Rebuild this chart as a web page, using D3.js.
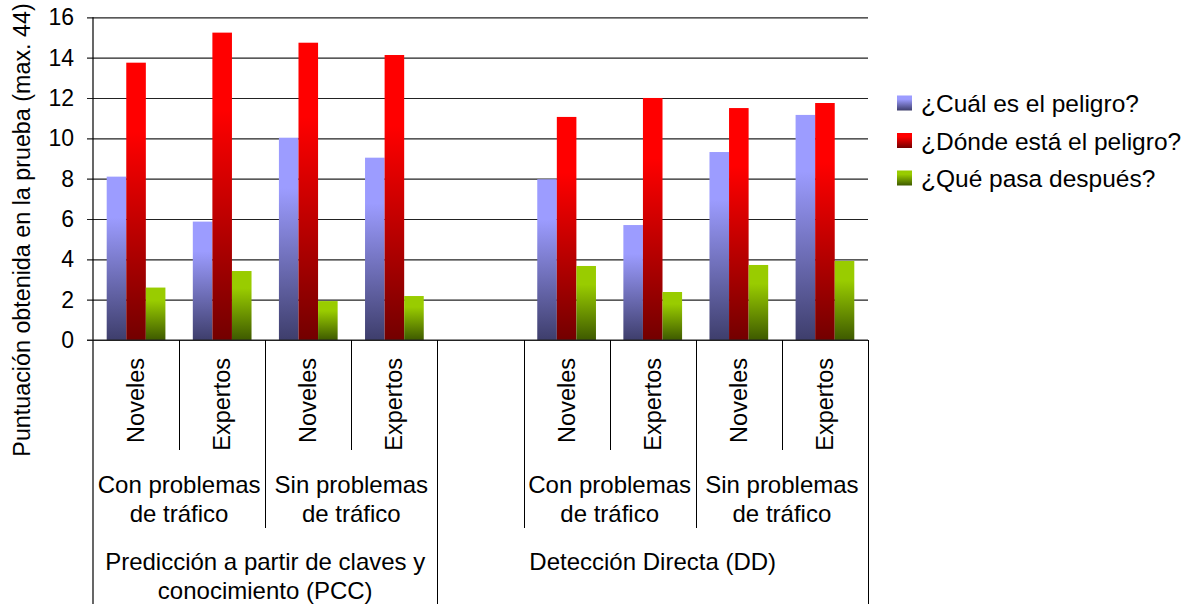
<!DOCTYPE html>
<html>
<head>
<meta charset="utf-8">
<script src="https://cdn.jsdelivr.net/npm/d3@7"></script>
<style>
  html, body { margin: 0; padding: 0; background: #fff; }
  svg { display: block; font-family: "Liberation Sans", Arial, sans-serif; }
</style>
</head>
<body>
<svg id="chart" width="1197" height="604"></svg>
<script>
// Slots along the x axis (the empty slot separates the two test types)
const slots = ["Noveles", "Expertos", "Noveles", "Expertos", "", "Noveles", "Expertos", "Noveles", "Expertos"];
const series = ["¿Cuál es el peligro?", "¿Dónde está el peligro?", "¿Qué pasa después?"];
const cualValues   = [8.1, 5.87, 10.03, 9.04, null, 7.97, 5.7, 9.32, 11.16];
const dondeValues  = [13.75, 15.24, 14.74, 14.13, null, 11.06, 12.0, 11.5, 11.75];
const quePasaValues = [2.6, 3.42, 1.93, 2.18, null, 3.67, 2.38, 3.72, 3.92];
const yTicks = [0, 2, 4, 6, 8, 10, 12, 14, 16];

// Second level: traffic condition, spans of slot indices
const subGroups = [
  { lines: ["Con problemas", "de tráfico"], from: 0, to: 1 },
  { lines: ["Sin problemas", "de tráfico"], from: 2, to: 3 },
  { lines: [], from: 4, to: 4 },
  { lines: ["Con problemas", "de tráfico"], from: 5, to: 6 },
  { lines: ["Sin problemas", "de tráfico"], from: 7, to: 8 }
];
// Third level: test type
const mainGroups = [
  { lines: ["Predicción a partir de claves y", "conocimiento (PCC)"], from: 0, to: 3 },
  { lines: ["Detección Directa (DD)"], from: 4, to: 8 }
];

(function () {
  const valuesBySeries = [cualValues, dondeValues, quePasaValues];
  const gradColors = [
    ["#9c9cff", "#3e3e6c"],
    ["#ff0000", "#730000"],
    ["#99cc00", "#3e5a00"]
  ];

  const svg = d3.select("#chart");
  const plotLeft = 93, plotRight = 868, plotTop = 17.3, plotBottom = 340;
  const tickFont = 23, labelFont = 24, rotFont = 23.5, legendFont = 24.5, titleFont = 23.3;

  const x = d3.scaleBand().domain(d3.range(slots.length)).range([plotLeft, plotRight]).padding(0);
  const xSub = d3.scaleBand().domain(d3.range(series.length)).range([0, x.bandwidth()])
    .paddingInner(0).paddingOuter(0.7);
  const y = d3.scaleLinear().domain([0, 16]).range([plotBottom, plotTop]);

  // Gradients for bars and legend keys
  const defs = svg.append("defs");
  gradColors.forEach((c, i) => {
    const g = defs.append("linearGradient").attr("id", "grad" + i)
      .attr("x1", 0).attr("y1", 0).attr("x2", 0).attr("y2", 1);
    g.append("stop").attr("offset", "0%").attr("stop-color", c[0]);
    g.append("stop").attr("offset", "25%").attr("stop-color", c[0]);
    g.append("stop").attr("offset", "100%").attr("stop-color", c[1]);
  });

  // Horizontal gridlines with short outer ticks
  const yAxis = d3.axisLeft(y).tickValues(yTicks).tickPadding(12).tickSizeOuter(0);
  const gy = svg.append("g").attr("transform", `translate(${plotLeft},0)`).call(yAxis);
  gy.select(".domain").remove();
  gy.selectAll(".tick line").attr("x1", -6).attr("x2", plotRight - plotLeft)
    .attr("stroke", "#222").attr("stroke-width", 1.2);
  gy.selectAll(".tick text").attr("font-size", tickFont).attr("fill", "#000")
    .attr("font-family", "Liberation Sans, Arial, sans-serif").attr("x", -19);

  // Y axis line
  svg.append("line").attr("x1", plotLeft).attr("x2", plotLeft).attr("y1", plotTop).attr("y2", 604)
    .attr("stroke", "#000").attr("stroke-width", 1.2);

  // Bars
  series.forEach((s, si) => {
    svg.append("g").selectAll("rect")
      .data(valuesBySeries[si].map((v, i) => ({ v, i })).filter(d => d.v != null))
      .join("rect")
      .attr("x", d => x(d.i) + xSub(si))
      .attr("width", xSub.bandwidth())
      .attr("y", d => y(d.v))
      .attr("height", d => y(0) - y(d.v))
      .attr("fill", `url(#grad${si})`);
  });

  // X axis line
  svg.append("line").attr("x1", plotLeft - 6).attr("x2", plotRight).attr("y1", plotBottom).attr("y2", plotBottom)
    .attr("stroke", "#222").attr("stroke-width", 1.2);

  // Category dividers below the axis
  const lvl1Bottom = 450, lvl2Bottom = 528, lvl3Bottom = 604;
  const dividers = [];
  for (let i = 1; i < slots.length; i++) {
    let yEnd = lvl1Bottom;
    if (mainGroups.some(g => g.from === i)) yEnd = lvl3Bottom;
    else if (subGroups.some(g => g.from === i)) yEnd = lvl2Bottom;
    dividers.push({ x: x(i), y2: yEnd });
  }
  dividers.push({ x: plotRight, y2: lvl3Bottom });
  svg.append("g").selectAll("line").data(dividers).join("line")
    .attr("x1", d => Math.round(d.x) + 0.5).attr("x2", d => Math.round(d.x) + 0.5)
    .attr("y1", plotBottom).attr("y2", d => d.y2)
    .attr("stroke", "#000").attr("stroke-width", 1);

  // First level labels (rotated)
  svg.append("g").selectAll("text").data(slots.map((s, i) => ({ s, i })).filter(d => d.s))
    .join("text")
    .attr("transform", d => `translate(${x(d.i) + x.bandwidth() / 2 + 8},358) rotate(-90)`)
    .attr("text-anchor", "end")
    .attr("font-size", rotFont)
    .attr("fill", "#000")
    .text(d => d.s);

  // Second level labels
  subGroups.forEach(g => {
    const cx = (x(g.from) + x(g.to) + x.bandwidth()) / 2;
    g.lines.forEach((ln, k) => {
      svg.append("text").attr("x", cx).attr("y", 493 + k * 29)
        .attr("text-anchor", "middle").attr("font-size", labelFont).attr("fill", "#000").text(ln);
    });
  });

  // Third level labels
  mainGroups.forEach(g => {
    const cx = (x(g.from) + x(g.to) + x.bandwidth()) / 2;
    g.lines.forEach((ln, k) => {
      svg.append("text").attr("x", cx).attr("y", 570 + k * 29)
        .attr("text-anchor", "middle").attr("font-size", labelFont).attr("fill", "#000").text(ln);
    });
  });

  // Y axis title
  svg.append("text")
    .attr("transform", "translate(30,230) rotate(-90)")
    .attr("text-anchor", "middle")
    .attr("font-size", titleFont)
    .attr("fill", "#000")
    .text("Puntuación obtenida en la prueba (max. 44)");

  // Legend
  const legend = svg.append("g").attr("transform", "translate(897,103)");
  series.forEach((s, i) => {
    const row = legend.append("g").attr("transform", `translate(0,${i * 37.5})`);
    row.append("rect").attr("x", 0).attr("y", -7.5).attr("width", 15).attr("height", 15)
      .attr("fill", `url(#grad${i})`);
    row.append("text").attr("x", 24).attr("y", 9).attr("font-size", legendFont).attr("fill", "#000").text(s);
  });
})();
</script>
</body>
</html>
